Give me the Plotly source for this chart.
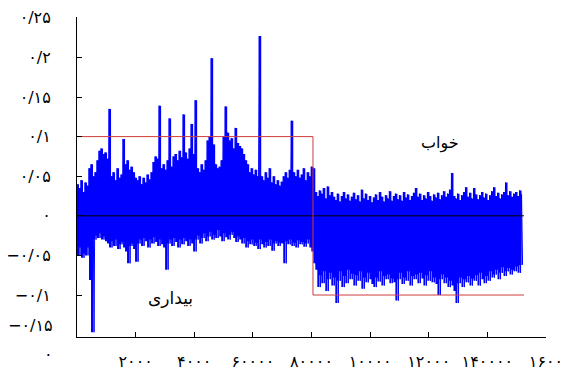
import numpy as np
import plotly.graph_objects as go

# upper envelope (peaks) of the EEG-like signal, read column by column
peaks = [
    0.040, 0.035, 0.045, 0.030, 0.042, 0.038,
    0.060, 0.065, 0.050, 0.055,
    0.070, 0.082, 0.085, 0.078, 0.080, 0.072,
    0.135,
    0.050, 0.055, 0.045, 0.060, 0.048, 0.052,
    0.097,
    0.065, 0.070, 0.058, 0.062, 0.055, 0.048,
    0.045, 0.050, 0.040, 0.048, 0.042, 0.052, 0.046, 0.055,
    0.068, 0.075, 0.072,
    0.139,
    0.060, 0.065, 0.058, 0.070,
    0.123,
    0.062, 0.075, 0.078, 0.070, 0.082, 0.074,
    0.128,
    0.080, 0.072, 0.085,
    0.116,
    0.078,
    0.146,
    0.060, 0.055, 0.065, 0.058, 0.070,
    0.095, 0.100,
    0.199,
    0.090, 0.065, 0.060, 0.062, 0.070,
    0.100,
    0.138,
    0.105, 0.095, 0.098, 0.085,
    0.111,
    0.092, 0.088, 0.085, 0.078, 0.070, 0.065,
    0.055, 0.060, 0.052, 0.058, 0.050,
    0.227,
    0.050, 0.045, 0.055, 0.048, 0.060, 0.042, 0.050, 0.040, 0.045, 0.038, 0.043,
    0.050, 0.055, 0.048, 0.058,
    0.120,
    0.055, 0.050, 0.058, 0.048, 0.052, 0.060, 0.045, 0.055, 0.050, 0.062,
    0.060,
    0.030, 0.025, 0.032, 0.028, 0.035, 0.022, 0.037, 0.026, 0.030, 0.024,
    0.020, 0.028, 0.018, 0.025, 0.030, 0.022, 0.027, 0.019, 0.024, 0.029,
    0.021, 0.026, 0.018, 0.033, 0.022, 0.028, 0.020, 0.025, 0.017, 0.023,
    0.027, 0.020, 0.030, 0.024, 0.018, 0.026, 0.022, 0.031, 0.019, 0.025,
    0.028, 0.021, 0.026, 0.019, 0.030, 0.023, 0.027, 0.020, 0.025, 0.029,
    0.035, 0.024, 0.028, 0.020, 0.026, 0.022, 0.030, 0.025, 0.019, 0.027,
    0.023, 0.029, 0.021, 0.026, 0.031, 0.024, 0.028, 0.033, 0.054, 0.025,
    0.022, 0.028, 0.020, 0.026, 0.030, 0.036, 0.024, 0.029, 0.022, 0.035,
    0.027, 0.021, 0.026, 0.030, 0.023, 0.028, 0.020, 0.026, 0.031, 0.036,
    0.025, 0.029, 0.022, 0.027, 0.030, 0.042, 0.026, 0.031, 0.024, 0.028,
    0.030, 0.025, 0.032, 0.027,
]

# lower envelope (troughs)
troughs = [
    -0.045, -0.050, -0.040, -0.053, -0.048, -0.050,
    -0.040,
    -0.081,
    -0.147,
    -0.030, -0.025, -0.028, -0.022, -0.030, -0.026, -0.032,
    -0.035, -0.040, -0.032, -0.038, -0.030, -0.042, -0.036, -0.033, -0.040, -0.045,
    -0.060,
    -0.038, -0.035, -0.042,
    -0.058,
    -0.035, -0.030, -0.038, -0.028, -0.032, -0.040, -0.030, -0.035, -0.027, -0.033, -0.038, -0.030, -0.036, -0.040,
    -0.068,
    -0.035, -0.030, -0.038, -0.028, -0.033, -0.040, -0.030, -0.036, -0.028, -0.032, -0.038, -0.030, -0.035, -0.045,
    -0.030, -0.025, -0.035, -0.028, -0.022, -0.032, -0.026, -0.020, -0.030, -0.024,
    -0.028, -0.018, -0.026, -0.032, -0.022, -0.027, -0.030, -0.024, -0.020, -0.028,
    -0.033, -0.026, -0.030, -0.035, -0.028, -0.040, -0.032, -0.036, -0.030, -0.038,
    -0.034, -0.042, -0.030, -0.036, -0.040, -0.033, -0.038, -0.030, -0.044, -0.035,
    -0.032, -0.038, -0.034,
    -0.035,
    -0.060,
    -0.032, -0.036, -0.030, -0.038, -0.034, -0.040, -0.031, -0.036, -0.033, -0.039, -0.035, -0.030, -0.040,
    -0.045,
    -0.060, -0.068, -0.090, -0.075, -0.085, -0.070, -0.095, -0.080, -0.072, -0.088,
    -0.078, -0.110, -0.082, -0.070, -0.090, -0.076, -0.085, -0.068, -0.080, -0.073,
    -0.088, -0.075, -0.082, -0.070, -0.092, -0.078, -0.084, -0.072, -0.080, -0.086,
    -0.090, -0.078, -0.083, -0.070, -0.088, -0.076, -0.080, -0.074, -0.085, -0.079,
    -0.084, -0.107, -0.080, -0.072, -0.086, -0.078, -0.082, -0.070, -0.088, -0.076,
    -0.080, -0.074, -0.085, -0.072, -0.079, -0.088, -0.075, -0.082, -0.070, -0.084,
    -0.078, -0.086, -0.100, -0.080, -0.074, -0.085, -0.078, -0.090, -0.082, -0.088,
    -0.095, -0.110, -0.085, -0.078, -0.090, -0.080, -0.084, -0.076, -0.088, -0.079,
    -0.082, -0.075, -0.088, -0.072, -0.080, -0.085, -0.076, -0.082, -0.070, -0.078,
    -0.074, -0.068, -0.080, -0.072, -0.065, -0.076, -0.070, -0.066, -0.074, -0.068,
    -0.070, -0.064, -0.072, -0.062,
]

signal_end = 152000
threshold_x = [0, 80500, 80500, 152500]
threshold_y = [0.1, 0.1, -0.1, -0.1]

x_tickvals = [20000, 40000, 60000, 80000, 100000, 120000, 140000, 160000]
x_ticktext = ["۲۰۰۰", "۴۰۰۰", "۶۰۰۰۰", "۸۰۰۰۰", "۱۰۰۰۰", "۱۲۰۰۰", "۱۴۰۰۰۰", "۱۶۰۰"]
y_tickvals = [0.25, 0.2, 0.15, 0.1, 0.05, 0, -0.05, -0.1]
y_ticktext = ["۰/۲۵", "۰/۲", "۰/۱۵", "۰/۱", "۰/۰۵", "۰", "−۰/۰۵", "−۰/۱"]
extra_y_labels = ["−۰/۱۵", "۰"]

n = min(len(peaks), len(troughs))
signal = []
for hi, lo in zip(peaks[:n], troughs[:n]):
    signal.extend([hi, lo])
xs = np.linspace(0, signal_end, len(signal))
x_hi = xs[0::2]

FONT = "DejaVu Sans"
FS = 16

fig = go.Figure()
# solid body of the signal between its peaks and troughs (stepped, so spikes stay narrow)
fig.add_trace(go.Scatter(
    x=np.concatenate([x_hi, x_hi[::-1]]),
    y=np.concatenate([np.array(peaks[:n]), np.array(troughs[:n])[::-1]]),
    mode="none", fill="toself", fillcolor="#0000ff", line=dict(shape="hv"),
    hoverinfo="skip"))
fig.add_trace(go.Scatter(x=xs, y=signal, mode="lines",
                         line=dict(color="#0000ff", width=1, simplify=False),
                         hoverinfo="skip"))
fig.add_trace(go.Scatter(x=[0, 152500], y=[0, 0], mode="lines",
                         line=dict(color="black", width=1)))
fig.add_trace(go.Scatter(x=threshold_x, y=threshold_y, mode="lines",
                         line=dict(color="#d03c3c", width=1)))

fig.add_annotation(x=32000, y=-0.104, text="بیداری", showarrow=False,
                   font=dict(family=FONT, size=17, color="black"))
fig.add_annotation(x=124000, y=0.092, text="خواب", showarrow=False,
                   font=dict(family=FONT, size=FS, color="black"))
fig.add_annotation(xref="paper", yref="paper", x=0, y=0.0375, text=extra_y_labels[0],
                   showarrow=False, xanchor="right", yanchor="middle", xshift=-22,
                   font=dict(family=FONT, size=FS, color="black"))
fig.add_annotation(xref="paper", yref="paper", x=0, y=-0.056, text=extra_y_labels[1],
                   showarrow=False, xanchor="right", yanchor="middle", xshift=-22,
                   font=dict(family=FONT, size=FS, color="black"))

fig.update_layout(
    width=573, height=372,
    margin=dict(l=69, r=35, t=9, b=43),
    paper_bgcolor="white", plot_bgcolor="white",
    showlegend=False,
    font=dict(family=FONT, size=FS, color="black"),
)
fig.update_xaxes(range=[0, 160000], tickvals=x_tickvals, ticktext=x_ticktext,
                 ticks="inside", ticklen=5, tickcolor="black",
                 showline=True, linecolor="black", linewidth=1,
                 showgrid=False, zeroline=False, ticklabelstandoff=10,
                 automargin=False)
fig.update_yaxes(range=[-0.153, 0.251], tickvals=y_tickvals, ticktext=y_ticktext,
                 ticks="inside", ticklen=5, tickcolor="black",
                 showline=True, linecolor="black", linewidth=1,
                 showgrid=False, zeroline=False, ticklabelstandoff=22,
                 automargin=False)

fig.write_html("out.html")
